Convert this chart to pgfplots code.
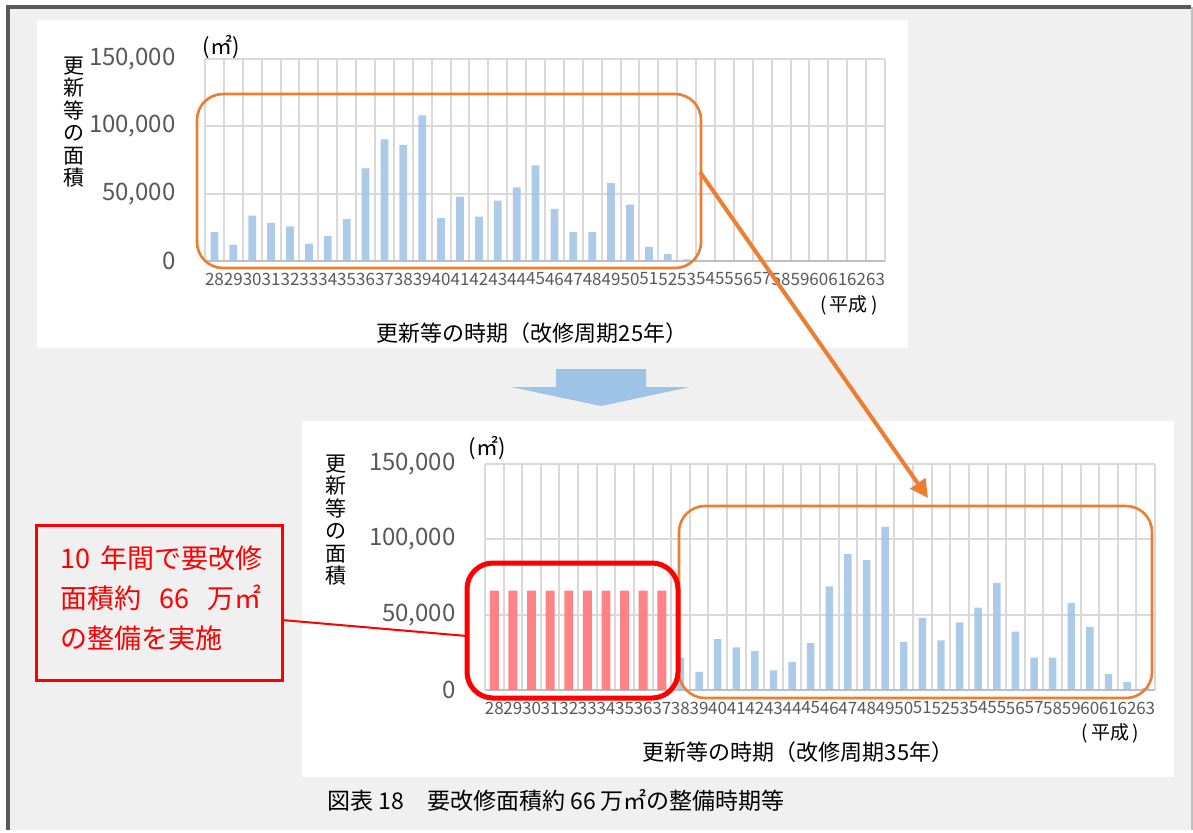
\documentclass[border=0pt]{standalone}
\usepackage{fontspec}
\setmainfont{Noto Sans CJK JP}
\usepackage{pgfplots}
\pgfplotsset{compat=1.18}
\usepackage{pgfplotstable}
\usetikzlibrary{arrows.meta}

\definecolor{bggray}{HTML}{F0F0F0}
\definecolor{framegray}{HTML}{595959}
\definecolor{gridgray}{HTML}{D9D9D9}
\definecolor{axisgray}{HTML}{BFBFBF}
\definecolor{tickgray}{HTML}{595959}
\definecolor{barblue}{HTML}{9DC3E6}
\definecolor{barred}{HTML}{FF7C80}
\definecolor{accorange}{HTML}{ED7D31}
\definecolor{accred}{HTML}{FF0000}

% floor area due for renewal per year (25-year cycle), categories 28..53
\pgfplotstableread{
x y
0 21500
1 12100
2 33700
3 28300
4 25800
5 13000
6 18500
7 31100
8 68800
9 90400
10 86200
11 108200
12 32000
13 47900
14 32900
15 44900
16 54700
17 71100
18 38700
19 21500
20 21500
21 57900
22 41900
23 10500
24 5200
25 1200
}\renewal

% levelled renovation over ten years, categories 28..37
\pgfplotstableread{
x y
0 66000
1 66000
2 66000
3 66000
4 66000
5 66000
6 66000
7 66000
8 66000
9 66000
}\levelled

\pgfplotsset{
  panel/.style={
    scale only axis,
    ybar, bar shift=0pt,
    xmin=-0.5, xmax=35.5, ymin=0, ymax=150000,
    xtick={0,...,35},
    xticklabels={28,29,30,31,32,33,34,35,36,37,38,39,40,41,42,43,44,45,46,47,48,49,50,51,52,53,54,55,56,57,58,59,60,61,62,63},
    minor xtick={-0.5,0.5,...,35.5},
    ytick={0,50000,100000,150000},
    yticklabels={0,{50,000},{100,000},{150,000}},
    scaled y ticks=false,
    xmajorgrids=false, xminorgrids=true, ymajorgrids=true,
    major grid style={draw=gridgray, line width=1pt},
    minor grid style={draw=gridgray, line width=1pt},
    major tick length=0pt, minor tick length=0pt,
    axis x line*=bottom, axis y line*=left,
    x axis line style={draw=axisgray, line width=1.2pt, -},
    y axis line style={draw=gridgray, line width=1pt, -},
    yticklabel style={font=\fontsize{12}{14}\selectfont, text=tickgray, anchor=east, inner sep=0pt, xshift=-14.5pt},
    xticklabel style={font=\fontsize{8.5}{10}\selectfont, text=tickgray, anchor=center, inner sep=0pt, yshift=-9pt},
  },
}

\begin{document}
\begin{tikzpicture}
\begin{scope}[x=0.5pt,y=-0.5pt]
  % page background and frame
  \fill[white] (0,0) rectangle (1193,830);
  \fill[bggray] (8,7) rectangle (1193,830);
  \draw[framegray, line width=2pt] (8,830) -- (8,7) -- (1191,7);
  \draw[axisgray, line width=0.8pt] (1192,7) -- (1192,830);
  % white chart panels
  \fill[white] (37,20) rectangle (908,348);
  \fill[white] (302,421) rectangle (1174,777);
\end{scope}

% 25-year renewal cycle
\begin{axis}[panel, at={(102.5pt,-130.5pt)}, anchor=south west,
  width=340pt, height=101pt]
  \addplot[fill=barblue, fill opacity=0.85, draw=none, bar width=0.41]
    table[x=x, y=y] {\renewal};
\end{axis}

% 35-year renewal cycle with levelled work in the first ten years
\begin{axis}[panel, at={(242.5pt,-345pt)}, anchor=south west,
  width=335pt, height=113pt]
  \addplot[fill=barblue, fill opacity=0.85, draw=none, bar width=0.40]
    table[x expr=\thisrow{x}+10, y=y] {\renewal};
  \addplot[fill=barred, fill opacity=0.95, draw=none, bar width=0.48]
    table[x=x, y=y] {\levelled};
\end{axis}

\begin{scope}[x=0.5pt,y=-0.5pt]
  % axis titles, upper chart
  \node[align=center, font=\fontsize{10.5}{11.25}\selectfont] at (74,122) {更\\新\\等\\の\\面\\積};
  \node[font=\fontsize{11}{13}\selectfont] at (221,47) {(㎡)};
  \node[font=\fontsize{11}{13}\selectfont] at (532,333) {更新等の時期（改修周期25年）};
  \node[font=\fontsize{9.5}{11}\selectfont] at (849,305) {(\,平成\,)};
  % axis titles, lower chart
  \node[align=center, font=\fontsize{10.5}{11.25}\selectfont] at (336,520) {更\\新\\等\\の\\面\\積};
  \node[font=\fontsize{11}{13}\selectfont] at (487,448) {(㎡)};
  \node[font=\fontsize{11}{13}\selectfont] at (798,752) {更新等の時期（改修周期35年）};
  \node[font=\fontsize{9.5}{11}\selectfont] at (1110,733) {(\,平成\,)};

  % highlight of the shifted block
  \draw[accorange, line width=1.3pt, rounded corners=13pt] (197,94) rectangle (701,268);
  \draw[accorange, line width=1.3pt, rounded corners=13pt] (679,506) rectangle (1152,698);
  \draw[accorange, line width=2pt, -{Triangle[length=9pt,width=9pt]}] (700,172) -- (928,498);

  % down arrow between the charts
  \fill[barblue] (556,369) -- (646,369) -- (646,387) -- (690,387) -- (601,406)
    -- (511,387) -- (556,387) -- cycle;

  % levelled block and its callout
  \draw[accred, line width=2.5pt, rounded corners=13pt] (467,563) rectangle (678,698);
  \draw[accred, line width=1pt] (282,620) -- (467,636);
  \draw[accred, line width=1.5pt, fill=bggray] (36,525) rectangle (282,680);
  \node[anchor=base west, text=accred, inner sep=0pt, font=\fontsize{13.5}{16}\selectfont] at (60,568) {10\hspace{5pt}年間で要改修};
  \node[anchor=base west, text=accred, inner sep=0pt, font=\fontsize{13.5}{16}\selectfont] at (60,608) {面積約\hspace{9pt}66\hspace{9pt}万㎡};
  \node[anchor=base west, text=accred, inner sep=0pt, font=\fontsize{13.5}{16}\selectfont] at (60,648) {の整備を実施};

  % caption
  \node[anchor=west, inner sep=0pt, font=\fontsize{11.5}{14}\selectfont] at (327,800) {図表 18　要改修面積約 66 万㎡の整備時期等};
\end{scope}
\end{tikzpicture}
\end{document}
